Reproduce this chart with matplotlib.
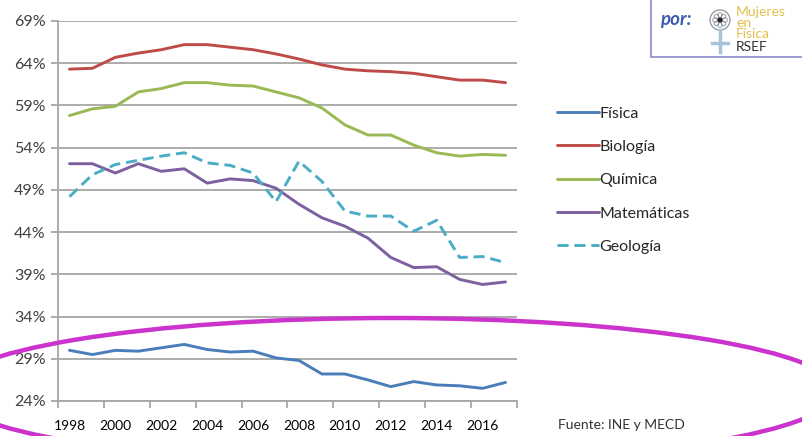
import matplotlib
matplotlib.use("Agg")
import matplotlib.pyplot as plt
from matplotlib.patches import Ellipse, Rectangle, Circle

plt.rcParams["font.family"] = ["Lato", "DejaVu Sans"]

years = list(range(1998, 2018))
fisica = [30.0, 29.5, 30.0, 29.9, 30.3, 30.7, 30.1, 29.8, 29.9, 29.1, 28.8, 27.2, 27.2, 26.5,
          25.7, 26.3, 25.9, 25.8, 25.5, 26.2]
biologia = [63.3, 63.4, 64.7, 65.2, 65.6, 66.2, 66.2, 65.9, 65.6, 65.1, 64.5, 63.8, 63.3, 63.1,
            63.0, 62.8, 62.4, 62.0, 62.0, 61.7]
quimica = [57.8, 58.6, 58.9, 60.6, 61.0, 61.7, 61.7, 61.4, 61.3, 60.6, 59.9, 58.7, 56.7, 55.5,
           55.5, 54.3, 53.4, 53.0, 53.2, 53.1]
matematicas = [52.1, 52.1, 51.0, 52.1, 51.2, 51.5, 49.8, 50.3, 50.1, 49.2, 47.3, 45.7, 44.7, 43.3,
               41.0, 39.8, 39.9, 38.4, 37.8, 38.1]
geologia = [48.2, 50.8, 52.0, 52.5, 53.0, 53.4, 52.2, 51.9, 51.0, 47.6, 52.4, 50.0, 46.5, 45.9,
            45.9, 44.1, 45.4, 41.0, 41.1, 40.4]
y_ticks = [24, 29, 34, 39, 44, 49, 54, 59, 64, 69]

series = [
    ("Física", fisica, "#4a7ebb", "-"),
    ("Biología", biologia, "#be4b48", "-"),
    ("Química", quimica, "#98b954", "-"),
    ("Matemáticas", matematicas, "#7d60a0", "-"),
    ("Geología", geologia, "#4bacc6", (0, (3.8, 2))),
]

W, H = 803, 436
fig = plt.figure(figsize=(W / 100, H / 100), dpi=100)
ax = fig.add_axes([58 / W, 1 - 401 / H, (517 - 58) / W, (401 - 21) / H])

xs = list(range(len(years)))
for label, vals, color, ls in series:
    ax.plot(xs, vals, color=color, linestyle=ls, linewidth=2.1, label=label,
            solid_capstyle="round")

grid_c = "#a6a6a6"
ax.set_xlim(-0.5, len(years) - 0.5)
ax.set_ylim(24, 69)
ax.set_yticks(y_ticks)
ax.set_yticklabels([f"{v}%" for v in y_ticks])
ax.yaxis.grid(True, color=grid_c, linewidth=1.3)
ax.set_axisbelow(True)
ax.set_xticks([i - 0.5 for i in range(0, len(years) + 1, 2)])
ax.set_xticklabels([])
ax.set_xticks(xs[::2], minor=True)
ax.set_xticklabels([str(y) for y in years[::2]], minor=True)
ax.tick_params(axis="x", which="major", length=5, color=grid_c, width=1.3)
ax.tick_params(axis="x", which="minor", length=0, pad=14)
ax.tick_params(axis="y", length=5, color=grid_c, width=1.3, pad=4)
ax.tick_params(labelsize=11.5, labelcolor="#404040")
for s in ["top", "right"]:
    ax.spines[s].set_visible(False)
for s in ["left", "bottom"]:
    ax.spines[s].set_color(grid_c)
    ax.spines[s].set_linewidth(1.3)

fig.legend(loc="upper left", bbox_to_anchor=(543 / W, 1 - 92 / H), frameon=False,
           fontsize=11.5, handlelength=2.6, handletextpad=0.05, labelspacing=1.2,
           labelcolor="#262626")

fig.text(558 / W, 1 - 425 / H, "Fuente: INE y MECD", fontsize=10, color="#333333",
         va="center", ha="left")

# overlay in pixel units for the logo box and the highlight ellipse
ov = fig.add_axes([0, 0, 1, 1], facecolor="none")
ov.set_xlim(0, W)
ov.set_ylim(H, 0)
ov.axis("off")
ov.add_patch(Rectangle((651, -5), 170, 62, fill=False, edgecolor="#8a8ac8", linewidth=1.2))
ov.text(660, 19, "por:", fontsize=13.5, color="#3d5bb0", fontweight="bold", style="italic",
        va="center", ha="left")
ov.plot([720, 720], [30, 52], color="#a8c4d8", linewidth=2.5)
ov.plot([712, 728], [43, 43], color="#a8c4d8", linewidth=2.5)
ov.add_patch(Circle((720, 20), 10, facecolor="white", edgecolor="#9aa0a8", linewidth=1.0))
for dx, dy in [(5, 0), (-5, 0), (0, 5), (0, -5), (3.5, 3.5), (-3.5, 3.5), (3.5, -3.5), (-3.5, -3.5)]:
    ov.add_patch(Circle((720 + dx, 20 + dy), 2.3, fill=False, edgecolor="#8a9098", linewidth=0.6))
ov.add_patch(Circle((720, 20), 1.8, color="#222222"))
for txt, yy in [("Mujeres", 12), ("en", 23), ("Física", 34)]:
    ov.text(736, yy, txt, fontsize=10, color="#e3c04a", va="center", ha="left")
ov.text(736, 47, "RSEF", fontsize=10, color="#333333", va="center", ha="left")

ov.add_patch(Ellipse((392, 391), 890, 146, fill=False, edgecolor="#cc33cc", linewidth=3.2))

fig.savefig("out.png", dpi=100)
